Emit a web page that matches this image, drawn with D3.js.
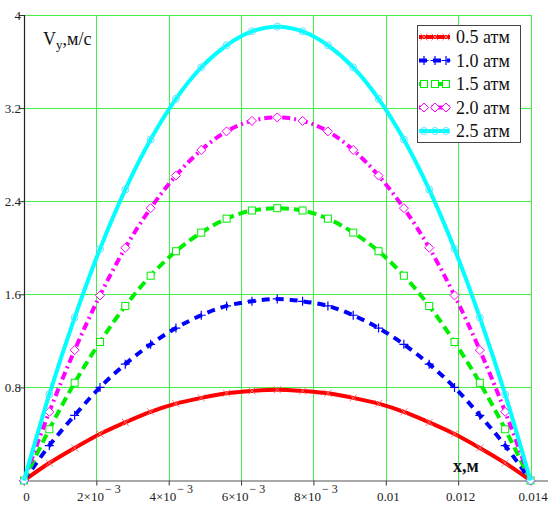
<!DOCTYPE html>
<html>
<head>
<meta charset="utf-8">
<script src="https://cdn.jsdelivr.net/npm/d3@7/dist/d3.min.js"></script>
<style>
  html, body { margin: 0; padding: 0; background: #fff; }
  svg { display: block; }
  text { font-family: "Liberation Serif", "Times New Roman", serif; }
</style>
</head>
<body>
<svg id="chart" width="551" height="509"></svg>
<script>
// ---------- DATA ----------
const xValues = [0, 0.0007, 0.0014, 0.0021, 0.0028, 0.0035, 0.0042, 0.0049, 0.0056, 0.0063, 0.007,
                 0.0077, 0.0084, 0.0091, 0.0098, 0.0105, 0.0112, 0.0119, 0.0126, 0.0133, 0.014];
const seriesNames = ["0.5 атм", "1.0 атм", "1.5 атм", "2.0 атм", "2.5 атм"];
const v05 = [0, 0.15, 0.28, 0.40, 0.50, 0.59, 0.66, 0.71, 0.75, 0.77, 0.78, 0.77, 0.75, 0.71, 0.66, 0.59, 0.50, 0.40, 0.28, 0.15, 0];
const v10 = [0, 0.30, 0.56, 0.80, 1.00, 1.17, 1.31, 1.42, 1.50, 1.54, 1.56, 1.54, 1.50, 1.42, 1.31, 1.17, 1.00, 0.80, 0.56, 0.30, 0];
const v15 = [0, 0.44, 0.84, 1.19, 1.50, 1.76, 1.97, 2.13, 2.25, 2.32, 2.34, 2.32, 2.25, 2.13, 1.97, 1.76, 1.50, 1.19, 0.84, 0.44, 0];
const v20 = [0, 0.59, 1.12, 1.59, 2.00, 2.34, 2.62, 2.84, 3.00, 3.09, 3.12, 3.09, 3.00, 2.84, 2.62, 2.34, 2.00, 1.59, 1.12, 0.59, 0];
const v25 = [0, 0.74, 1.40, 1.99, 2.50, 2.93, 3.28, 3.55, 3.74, 3.86, 3.90, 3.86, 3.74, 3.55, 3.28, 2.93, 2.50, 1.99, 1.40, 0.74, 0];
const seriesValues = [v05, v10, v15, v20, v25];
const xTicks = [0, 0.002, 0.004, 0.006, 0.008, 0.01, 0.012, 0.014];
const xTickLabels = [["0", ""], ["2×10", "− 3"], ["4×10", "− 3"], ["6×10", "− 3"], ["8×10", "− 3"], ["0.01", ""], ["0.012", ""], ["0.014", ""]];
const yTicks = [0.8, 1.6, 2.4, 3.2, 4];
const yTickLabels = ["0.8", "1.6", "2.4", "3.2", "4"];

// ---------- STYLES ----------
const colors = ["#ff0000", "#0000ff", "#00ee00", "#ff00ff", "#00ffff"];
const dashes = [null, "8,6", "9,5", "8,4,2,4", null];
const markerTypes = ["x", "plus", "square", "diamond", "circle"];
const serif = "'Liberation Serif', 'Times New Roman', serif";

const svg = d3.select("#chart");
const pLeft = 24, pRight = 530.5, pTop = 15, pBottom = 480.5;
const x = d3.scaleLinear().domain([0, 0.014]).range([pLeft, pRight]);
const y = d3.scaleLinear().domain([0, 4]).range([pBottom, pTop]);
const gridColor = "#44ee44";

// grid
const grid = svg.append("g");
grid.selectAll("line.v").data(xTicks.slice(1)).enter().append("line")
  .attr("x1", d => Math.round(x(d)) + 0.5).attr("x2", d => Math.round(x(d)) + 0.5)
  .attr("y1", pTop).attr("y2", pBottom)
  .attr("stroke", gridColor).attr("stroke-width", 1);
grid.selectAll("line.h").data(yTicks).enter().append("line")
  .attr("x1", pLeft).attr("x2", pRight + 1)
  .attr("y1", d => Math.round(y(d)) + 0.5).attr("y2", d => Math.round(y(d)) + 0.5)
  .attr("stroke", gridColor).attr("stroke-width", 1);

// axes
const xAxis = d3.axisBottom(x).tickValues(xTicks).tickSize(5).tickFormat("");
const gx = svg.append("g").attr("transform", `translate(0,${pBottom})`).call(xAxis)
  .attr("font-family", serif);
gx.select(".domain").remove();
gx.selectAll(".tick line").attr("stroke", "#333");
svg.append("line").attr("x1", 19).attr("x2", 548).attr("y1", pBottom + 0.5).attr("y2", pBottom + 0.5)
  .attr("stroke", "#555").attr("stroke-width", 1.2);
gx.selectAll(".tick").each(function(d, i) {
  const t = d3.select(this).append("text")
    .attr("y", 20).attr("x", 2).attr("text-anchor", "middle")
    .attr("fill", "#222").style("font-size", "13px").style("font-family", serif);
  t.append("tspan").text(xTickLabels[i][0]);
  if (xTickLabels[i][1]) {
    t.append("tspan").attr("dy", -8).attr("dx", 1).style("font-size", "12px").text(xTickLabels[i][1]);
  }
});
gx.selectAll(".tick").filter((d, i) => i === 0).select("text").attr("x", 6);
gx.selectAll(".tick").filter((d, i) => i === xTicks.length - 1).select("text").attr("x", 5);

const yAxis = d3.axisLeft(y).tickValues(yTicks).tickSize(5).tickFormat((d, i) => yTickLabels[i]);
const gy = svg.append("g").attr("transform", `translate(${pLeft},0)`).call(yAxis)
  .attr("font-family", serif);
gy.select(".domain").remove();
gy.selectAll(".tick line").attr("stroke", "#333");
gy.selectAll(".tick text").attr("x", -3).attr("fill", "#222")
  .style("font-size", "13px").style("font-family", serif);
svg.append("line").attr("x1", pLeft + 0.5).attr("x2", pLeft + 0.5).attr("y1", pTop).attr("y2", pBottom + 1)
  .attr("stroke", "#222").attr("stroke-width", 1.2);

// marker drawer
function drawMarker(g, type, cx, cy, color) {
  const s = 3.5;
  if (type === "x") {
    g.append("path").attr("d", `M${cx - s},${cy - s}L${cx + s},${cy + s}M${cx - s},${cy + s}L${cx + s},${cy - s}`)
      .attr("stroke", "#ff7070").attr("stroke-width", 1).attr("fill", "none");
  } else if (type === "plus") {
    g.append("path").attr("d", `M${cx - s - 1},${cy}L${cx + s + 1},${cy}M${cx},${cy - s - 1}L${cx},${cy + s + 1}`)
      .attr("stroke", color).attr("stroke-width", 1.2).attr("fill", "none");
  } else if (type === "square") {
    g.append("rect").attr("x", cx - s).attr("y", cy - s).attr("width", 2 * s).attr("height", 2 * s)
      .attr("stroke", color).attr("stroke-width", 1).attr("fill", "#fff");
  } else if (type === "diamond") {
    g.append("path").attr("d", `M${cx},${cy - s - 1}L${cx + s + 1},${cy}L${cx},${cy + s + 1}L${cx - s - 1},${cy}Z`)
      .attr("stroke", color).attr("stroke-width", 1).attr("fill", "#fff");
  } else if (type === "circle") {
    g.append("circle").attr("cx", cx).attr("cy", cy).attr("r", s)
      .attr("stroke", "#66e0ff").attr("stroke-width", 1).attr("fill", "none");
  }
}

// series
const line = d3.line().x((d, i) => x(xValues[i])).y(d => y(d)).curve(d3.curveMonotoneX);
seriesValues.forEach((vals, k) => {
  const g = svg.append("g");
  const p = g.append("path").datum(vals).attr("d", line)
    .attr("fill", "none").attr("stroke", colors[k]).attr("stroke-width", 4);
  if (dashes[k]) p.attr("stroke-dasharray", dashes[k]);
  vals.forEach((v, i) => drawMarker(g, markerTypes[k], x(xValues[i]), y(v), colors[k]));
});

// y label
const yl = svg.append("text").attr("x", 43).attr("y", 45).attr("fill", "#111").style("font-size", "18px");
yl.append("tspan").text("V");
yl.append("tspan").attr("dy", 4).style("font-size", "13px").text("y");
yl.append("tspan").attr("dy", -4).text(",м/с");

// x label
svg.append("text").attr("x", 453).attr("y", 472).attr("fill", "#111")
  .style("font-size", "18px").style("font-weight", "600").text("x,м");

// legend
const lg = svg.append("g");
lg.append("rect").attr("x", 417.5).attr("y", 25.5).attr("width", 103).attr("height", 117)
  .attr("fill", "#fff").attr("stroke", "#444").attr("stroke-width", 1);
seriesNames.forEach((name, k) => {
  const cy = 37 + k * 23.5;
  const seg = lg.append("line").attr("x1", 419).attr("x2", 450).attr("y1", cy).attr("y2", cy)
    .attr("stroke", colors[k]).attr("stroke-width", 4);
  if (dashes[k]) seg.attr("stroke-dasharray", dashes[k]);
  [424, 435, 446].forEach(mx => drawMarker(lg, markerTypes[k], mx, cy, colors[k]));
  lg.append("text").attr("x", 456).attr("y", cy + 6).attr("fill", "#111")
    .style("font-size", "18px").text(name);
});
</script>
</body>
</html>
